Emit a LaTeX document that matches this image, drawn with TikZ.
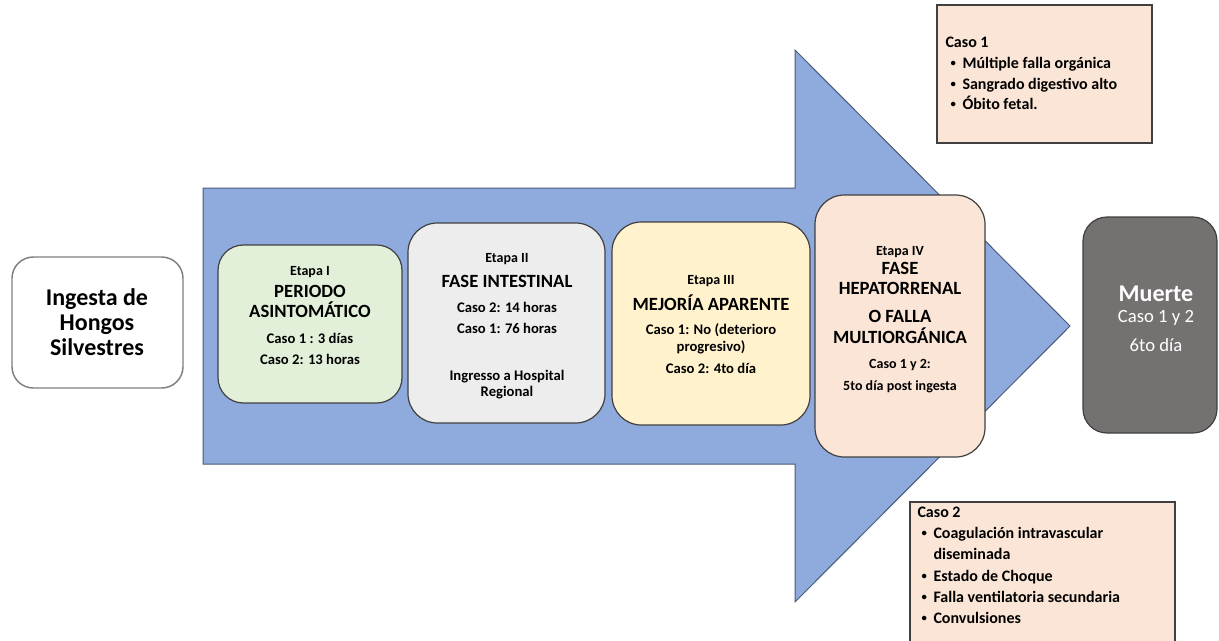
\documentclass[tikz,border=0pt]{standalone}
\usepackage{fontspec}
\setmainfont{Carlito}

\definecolor{arrowblue}{HTML}{8FAADC}
\definecolor{arrowline}{HTML}{4A5A78}
\definecolor{boxline}{HTML}{404040}
\definecolor{startline}{HTML}{7F7F7F}
\definecolor{stagegreen}{HTML}{E2F0D9}
\definecolor{stagegray}{HTML}{EDEDED}
\definecolor{stageyellow}{HTML}{FFF2CC}
\definecolor{stagepeach}{HTML}{FBE5D6}
\definecolor{deathgray}{HTML}{767171}

\newcommand{\listdot}{\makebox[9pt][l]{\raisebox{0.2ex}{\fontsize{8}{8}\selectfont\textbullet}}}

\tikzset{every picture/.style={line width=0.75pt}}
\tikzset{
  stagebox/.style={draw=boxline, line width=0.9pt},
  casebox/.style={draw=boxline, fill=stagepeach, line width=0.9pt},
  steplbl/.style={anchor=base, inner sep=0.75pt, font=\bfseries\fontsize{10.5}{12}\selectfont},
  steptitle/.style={anchor=base, inner sep=0.75pt, font=\bfseries\fontsize{14}{16}\selectfont},
  steptxt/.style={anchor=base, inner sep=0.75pt, font=\bfseries\fontsize{11}{13}\selectfont},
  bigtxt/.style={anchor=base, inner sep=0.75pt, font=\bfseries\fontsize{18}{20}\selectfont},
  listtxt/.style={anchor=base west, inner sep=0pt, font=\bfseries\fontsize{12}{14}\selectfont},
}

\begin{document}
\begin{tikzpicture}[x=0.75pt,y=0.75pt,yscale=-1,xscale=1]
    \useasboundingbox (0,0) rectangle (1219,640);

    %Big arrow
    \draw [color=arrowline, fill=arrowblue] (203,188) -- (795,188) -- (795,50) -- (1070,326) -- (795,602) -- (795,464) -- (203,464) -- cycle ;

    %Rounded Rect: start
    \draw [draw=startline, fill=white, line width=1.1pt, rounded corners=16pt] (12,257) rectangle (183,388) ;
    %Rounded Rect: Etapa I
    \draw [stagebox, fill=stagegreen, rounded corners=19pt] (218,245) rectangle (402,403) ;
    %Rounded Rect: Etapa II
    \draw [stagebox, fill=stagegray, rounded corners=22pt] (408,223) rectangle (605,423) ;
    %Rounded Rect: Etapa III
    \draw [stagebox, fill=stageyellow, rounded corners=22pt] (612,222) rectangle (810,425) ;
    %Rounded Rect: Etapa IV
    \draw [stagebox, fill=stagepeach, rounded corners=22pt] (815,195) rectangle (985,457) ;
    %Rounded Rect: death
    \draw [stagebox, fill=deathgray, rounded corners=18pt] (1083,217) rectangle (1217,433) ;
    %Rect: Caso 1
    \draw [casebox] (937,5) rectangle (1152,143) ;
    %Rect: Caso 2
    \draw [casebox] (910,502) rectangle (1175,645) ;

    % Text Node: start
    \node [bigtxt] (ingA) at (97,305) {Ingesta de};
    \node [bigtxt] (ingB) at (97,330) {Hongos};
    \node [bigtxt] (ingC) at (97,355) {Silvestres};

    % Text Node: Etapa I
    \node [steplbl] (eIa) at (310,275) {Etapa I};
    \node [steptitle] (eIb) at (310,297) {PERIODO};
    \node [steptitle] (eIc) at (310,317) {ASINTOMÁTICO};
    \node [steptxt] (eId) at (310,343) {Caso 1 : 3 días};
    \node [steptxt] (eIe) at (310,364) {Caso 2: 13 horas};

    % Text Node: Etapa II
    \node [steplbl] (eIIa) at (507,262) {Etapa II};
    \node [steptitle] (eIIb) at (507,287) {FASE INTESTINAL};
    \node [steptxt] (eIIc) at (507,312) {Caso 2: 14 horas};
    \node [steptxt] (eIId) at (507,333) {Caso 1: 76 horas};
    \node [steptxt] (eIIe) at (507,380) {Ingresso a Hospital};
    \node [steptxt] (eIIf) at (507,396) {Regional};

    % Text Node: Etapa III
    \node [steplbl] (eIIIa) at (711,284) {Etapa III};
    \node [steptitle] (eIIIb) at (711,310) {MEJORÍA APARENTE};
    \node [steptxt] (eIIIc) at (711,334) {Caso 1: No (deterioro};
    \node [steptxt] (eIIId) at (711,351) {progresivo)};
    \node [steptxt] (eIIIe) at (711,373) {Caso 2: 4to día};

    % Text Node: Etapa IV
    \node [steplbl] (eIVa) at (900,255) {Etapa IV};
    \node [steptitle] (eIVb) at (900,274) {FASE};
    \node [steptitle] (eIVc) at (900,294) {HEPATORRENAL};
    \node [steptitle] (eIVd) at (900,322) {O FALLA};
    \node [steptitle] (eIVe) at (900,343) {MULTIORGÁNICA};
    \node [steplbl] (eIVf) at (900,368) {Caso 1 y 2:};
    \node [steplbl] (eIVg) at (900,390) {5to día post ingesta};

    % Text Node: death
    \node [bigtxt, text=white] (deathA) at (1156,301) {Muerte};
    \node [steptitle, text=white, font=\fontsize{14}{16}\selectfont] (deathB) at (1156,322) {Caso 1 y 2};
    \node [steptitle, text=white, font=\fontsize{14}{16}\selectfont] (deathC) at (1156,351) {6to día};

    % Text Node: Caso 1
    \node [listtxt] (cOa) at (945,47) {Caso 1};
    \node [listtxt] (cOb) at (950,68) {\listdot Múltiple falla orgánica};
    \node [listtxt] (cOc) at (950,89) {\listdot Sangrado digestivo alto};
    \node [listtxt] (cOd) at (950,109) {\listdot Óbito fetal.};

    % Text Node: Caso 2
    \node [listtxt] (cTa) at (917,517) {Caso 2};
    \node [listtxt] (cTb) at (921,538) {\listdot Coagulación intravascular};
    \node [listtxt] (cTc) at (933,559) {diseminada};
    \node [listtxt] (cTd) at (921,581) {\listdot Estado de Choque};
    \node [listtxt] (cTe) at (921,602) {\listdot Falla ventilatoria secundaria};
    \node [listtxt] (cTf) at (921,623) {\listdot Convulsiones};

\end{tikzpicture}
\end{document}
